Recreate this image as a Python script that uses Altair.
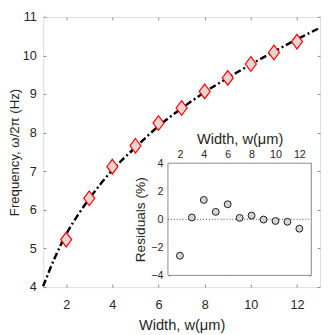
import altair as alt
import pandas as pd

# ---- data ----
width_um = [2, 3, 4, 5, 6, 7, 8, 9, 10, 11, 12]
freq_hz = [5.23, 6.30, 7.12, 7.66, 8.25, 8.64, 9.07, 9.42, 9.78, 10.08, 10.36]
fit_w = [1, 1.5, 2, 2.5, 3, 4, 5, 6, 7, 8, 9, 10, 11, 12, 13]
fit_f = [4.02, 4.75, 5.37, 5.86, 6.29, 7.03, 7.62, 8.17, 8.63, 9.05, 9.42, 9.77, 10.10, 10.42, 10.72]
resid_pct = [-2.6, 0.13, 1.38, 0.53, 1.07, 0.10, 0.27, -0.02, -0.12, -0.18, -0.67]

main_x_ticks = [2, 4, 6, 8, 10, 12]
main_y_ticks = [4, 5, 6, 7, 8, 9, 10, 11]
inset_x_ticks = [2, 4, 6, 8, 10, 12]
inset_y_ticks = [-4, -2, 0, 2, 4]
x_domain = [1, 13]
main_y_domain = [4, 11]
inset_y_domain = [-4, 4]

data_df = pd.DataFrame({"w": width_um, "f": freq_hz, "r": resid_pct})
fit_df = pd.DataFrame({"w": fit_w, "f": fit_f})
box_df = pd.DataFrame({"x": [x_domain[0]], "x2": [x_domain[1]],
                       "y": [inset_y_domain[0]], "y2": [inset_y_domain[1]]})

W, H = 284, 277
FONT = "Liberation Sans"
LAB = "#262626"
FRAME = "#8a8a8a"

# inset placement inside the plot area (pixels)
IX0, IX1, IY0, IY1 = 128, 275, 150, 265


def ax(orient, offset, values, labels=True, title=None, size=13, pad=6, tpad=6, tsize=15):
    kw = dict(orient=orient, offset=offset, values=values, domain=False,
              ticks=True, tickSize=3, tickColor=FRAME, grid=False,
              labels=labels, labelFont=FONT, labelFontSize=size, labelColor=LAB,
              labelPadding=pad)
    if title:
        kw.update(title=title, titleFont=FONT, titleFontSize=tsize,
                  titleColor=LAB, titleFontWeight="normal", titlePadding=tpad)
    else:
        kw.update(title=None)
    return alt.Axis(**kw)


xs_main = alt.Scale(domain=x_domain, nice=False, zero=False)
ys_main = alt.Scale(domain=main_y_domain, nice=False, zero=False)
xs_in = alt.Scale(domain=x_domain, nice=False, zero=False, range=[IX0, IX1])
ys_in = alt.Scale(domain=inset_y_domain, nice=False, zero=False, range=[IY1, IY0])

diamond = "M0,-1L0.75,0L0,1L-0.75,0Z"

line = alt.Chart(fit_df).mark_line(
    color="black", strokeWidth=2.5, strokeDash=[7, 3, 2, 3], interpolate="monotone"
).encode(
    x=alt.X("w:Q", scale=xs_main,
            axis=ax("bottom", -3, main_x_ticks, pad=12, title="Width, w(μm)", tpad=6)),
    y=alt.Y("f:Q", scale=ys_main,
            axis=ax("left", -3, main_y_ticks, pad=7, title="Frequency, ω/2π (Hz)",
                    tpad=1, tsize=13.5)),
)

pts = alt.Chart(data_df).mark_point(
    shape=diamond, filled=True, fill="#ead3d3", stroke="#ff0000",
    strokeWidth=1.2, size=225, opacity=1
).encode(
    x=alt.X("w:Q", scale=xs_main, axis=ax("top", -3, main_x_ticks, labels=False)),
    y=alt.Y("f:Q", scale=ys_main, axis=ax("right", -3, main_y_ticks, labels=False)),
)

main = alt.layer(line, pts).resolve_axis(x="independent", y="independent")

box = alt.Chart(box_df).mark_rect(fill="white", stroke=FRAME, strokeWidth=1).encode(
    x=alt.X("x:Q", scale=xs_in, axis=None),
    x2="x2:Q",
    y=alt.Y("y:Q", scale=ys_in, axis=None),
    y2="y2:Q",
)

zero = alt.Chart(box_df).mark_rule(color="#444444", strokeWidth=1, strokeDash=[1, 2]).encode(
    x=alt.X("x:Q", scale=xs_in, axis=None),
    x2="x2:Q",
    y=alt.datum(0, scale=ys_in, axis=None),
)

rpts = alt.Chart(data_df).mark_point(
    filled=True, fill="#d4d4d4", stroke="#1a1a1a", strokeWidth=1, size=50, opacity=1
).encode(
    x=alt.X("w:Q", scale=xs_in,
            axis=ax("top", -(IY0 + 3), inset_x_ticks, size=11, pad=4,
                    title="Width, w(μm)", tpad=2, tsize=15)),
    y=alt.Y("r:Q", scale=ys_in,
            axis=ax("left", -(IX0 + 3), inset_y_ticks, size=11, pad=5,
                    title="Residuals (%)", tpad=4, tsize=14)),
)

rpts2 = alt.Chart(data_df).mark_point(opacity=0).encode(
    x=alt.X("w:Q", scale=xs_in, axis=ax("bottom", (IY1 - 3) - H, inset_x_ticks, labels=False)),
    y=alt.Y("r:Q", scale=ys_in, axis=ax("right", (IX1 - 3) - W, inset_y_ticks, labels=False)),
)

inset = alt.layer(box, zero, rpts, rpts2).resolve_axis(x="independent", y="independent")

chart = alt.layer(main, inset).resolve_scale(
    x="independent", y="independent"
).properties(
    width=W, height=H, autosize="none",
    padding={"left": 36, "top": 5, "right": 4, "bottom": 45},
).configure_view(stroke=FRAME, strokeWidth=1).configure(background="white")

chart.save("out.html", embed_options={"renderer": "svg", "actions": False})
